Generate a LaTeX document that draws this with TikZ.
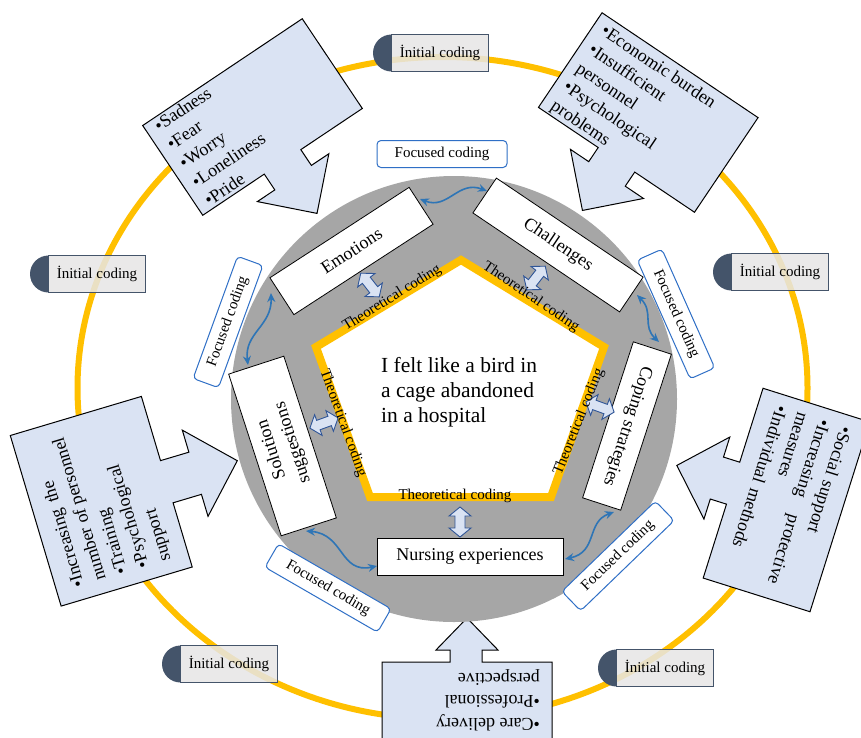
\documentclass[tikz,border=0pt]{standalone}
\usepackage{fontspec}
\setmainfont{Liberation Serif}
\usetikzlibrary{arrows.meta}

\definecolor{ringorange}{HTML}{FFC000}
\definecolor{diskgray}{HTML}{A6A6A6}
\definecolor{calloutfill}{HTML}{DAE3F3}
\definecolor{linkblue}{HTML}{2E75B6}
\definecolor{labelblue}{HTML}{2F6FC6}
\definecolor{arrowedge}{HTML}{2F5597}
\definecolor{tagfill}{HTML}{E7E6E6}
\definecolor{tagdark}{HTML}{44546A}

% "Initial coding" tag: dark half disc behind a light box
\newcommand{\codingtag}[3]{%
  \fill[tagdark] (#2-48.5,#3-18.5) arc[start angle=90,end angle=270,radius=18.5pt] -- cycle;
  \node[initialtag] (#1) at (#2,#3) {İnitial coding};}

\begin{document}
\begin{tikzpicture}[x=1pt,y=-1pt,
  catbox/.style={draw=black, fill=white, line width=0.8pt, inner sep=0pt,
    font=\fontsize{18}{22}\selectfont},
  callout/.style={draw=black, fill=calloutfill, line width=1pt, line join=miter},
  callouttext/.style={anchor=north west, inner sep=0pt, align=left, transform shape,
    font=\fontsize{18}{22.5}\selectfont},
  focuslabel/.style={draw=labelblue, fill=white, rounded corners=4pt, line width=1pt,
    minimum width=130pt, minimum height=27pt, inner sep=0pt,
    font=\fontsize{15}{18}\selectfont},
  theolabel/.style={inner sep=0pt, font=\fontsize{15}{18}\selectfont},
  initialtag/.style={draw=tagdark, fill=tagfill, fill opacity=0.85, text opacity=1,
    line width=1pt, minimum width=97pt, minimum height=37pt, inner sep=0pt,
    font=\fontsize{15}{18}\selectfont},
  link/.style={linkblue, line width=1.6pt,
    {Stealth[length=9pt,width=8pt]}-{Stealth[length=9pt,width=8pt]}},
  theoarrow/.style={draw=arrowedge, fill=calloutfill, line width=0.9pt, line join=miter},
  dblarrow/.pic={\draw[theoarrow] (-15,0) -- (-6,-11) -- (-6,-5) -- (6,-5) -- (6,-11)
    -- (15,0) -- (6,11) -- (6,5) -- (-6,5) -- (-6,11) -- cycle;}
]
\useasboundingbox (0,0) rectangle (861,737);
\clip (0,0) rectangle (861,737);
\fill[white] (0,0) rectangle (861,737);

% outer ring
\draw[ringorange, line width=6pt] (442.5,388) ellipse [x radius=365, y radius=331];

% callout: emotions
\begin{scope}[shift={(252.5,117)}, rotate=33.8]
  \draw[callout] (-96,-54) -- (96,-54) -- (96,54) -- (22,54) -- (22,73) -- (43,73)
    -- (0,116) -- (-43,73) -- (-22,73) -- (-22,54) -- (-96,54) -- cycle;
  \node[callouttext] (emoList) at (-86,-52) {•Sadness\\•Fear\\•Worry\\•Loneliness\\•Pride};
\end{scope}

% callout: challenges
\begin{scope}[shift={(648.25,112.5)}, rotate=-33.9]
  \draw[callout] (-94,-57) -- (94,-57) -- (94,57) -- (22,57) -- (22,74) -- (44,74)
    -- (0,118) -- (-44,74) -- (-22,74) -- (-22,57) -- (-94,57) -- cycle;
  \node[callouttext] (chalList) at (-84,-51) {•Economic burden\\•Insufficient\\personnel\\•Psychological\\problems};
\end{scope}

% callout: coping strategies
\begin{scope}[shift={(786.5,500)}, rotate=-107.5]
  \draw[callout] (-99.5,-56) -- (99.5,-56) -- (99.5,56) -- (22,56) -- (22,73) -- (43,73)
    -- (0,115) -- (-43,73) -- (-22,73) -- (-22,56) -- (-99.5,56) -- cycle;
  \node[callouttext, text width=172pt] (copeList) at (-88,-42)
    {•Social support\\•Increasing\hfill protective\\measures\\•Individual methods};
\end{scope}

% callout: solution suggestions
\begin{scope}[shift={(101.25,501.25)}, rotate=106.6]
  \draw[callout] (-89,-68.4) -- (89,-68.4) -- (89,68.4) -- (22,68.4) -- (22,98) -- (45,98)
    -- (0,142) -- (-45,98) -- (-22,98) -- (-22,68.4) -- (-89,68.4) -- cycle;
  \node[callouttext] (solList) at (-76,-53)
    {•Increasing\hspace{7pt}the\\number of personnel\\•Training\\•Psychological\\support};
\end{scope}

% callout: nursing experiences
\draw[callout] (382,662) -- (450,662) -- (450,650) -- (436,650) -- (467,618) -- (498,650)
  -- (482,650) -- (482,662) -- (552,662) -- (552,760) -- (382,760) -- cycle;
\node[anchor=north west, inner sep=0pt, align=left, rotate=180,
  font=\fontsize{18}{22.5}\selectfont] (careList) at (540,731)
  {•Care delivery\\•Professional\\perspective};

% grey disc and central pentagon
\fill[diskgray] (454,399) circle [radius=223];
\draw[ringorange, line width=8pt, fill=white, line join=miter]
  (461,260) -- (604,347) -- (551,497) -- (370,497) -- (316,347) -- cycle;

% category boxes
\node[catbox, minimum width=166pt, minimum height=44pt, rotate=33] (emotions) at (351.5,251) {Emotions};
\node[catbox, minimum width=177pt, minimum height=42pt, rotate=-34] (challenges) at (558,245) {Challenges};
\node[catbox, minimum width=164pt, minimum height=40pt, rotate=-108] (coping) at (627,426) {Coping strategies};
\node[catbox, minimum width=170pt, minimum height=58pt, rotate=108, align=center] (solution) at (282.5,446) {Solution\\suggestions};
\node[catbox, minimum width=186pt, minimum height=37pt] (nursing) at (470,556.5) {Nursing experiences};

% theoretical coding arrows and labels
\pic (taEmo) [rotate=-52] at (370,285) {dblarrow};
\pic (taChal) [rotate=52] at (536,278) {dblarrow};
\pic (taCope) [rotate=-20] at (600,407) {dblarrow};
\pic (taNurs) [rotate=90] at (460,522) {dblarrow};
\pic (taSol) [rotate=20] at (324,423) {dblarrow};

\node[theolabel, rotate=32] (thEmo) at (392,298) {Theoretical coding};
\node[theolabel, rotate=-34] (thChal) at (531,297) {Theoretical coding};
\node[theolabel, rotate=68] (thCope) at (579,422) {Theoretical coding};
\node[theolabel] (thNurs) at (455,496) {Theoretical coding};
\node[theolabel, rotate=-70] (thSol) at (343,423) {Theoretical coding};

% focused coding links between neighbouring categories
\coordinate (l1a) at (420,199); \coordinate (l1b) at (487,191);
\coordinate (l2a) at (637,295); \coordinate (l2b) at (659,342);
\coordinate (l3a) at (614,512); \coordinate (l3b) at (565,559);
\coordinate (l4a) at (377,566); \coordinate (l4b) at (306,531);
\coordinate (l5a) at (248,365); \coordinate (l5b) at (271,293);
\draw[link] (l1a) .. controls (448,210) and (458,180) .. (l1b);
\draw[link] (l2a) .. controls (654,312) and (642,326) .. (l2b);
\draw[link] (l3a) .. controls (586,522) and (598,552) .. (l3b);
\draw[link] (l4a) .. controls (340,574) and (344,534) .. (l4b);
\draw[link] (l5a) .. controls (244,333) and (272,326) .. (l5b);

\node[focuslabel] (fcTop) at (442,154) {Focused coding};
\node[focuslabel, rotate=-66] (fcRight) at (676,314) {Focused coding};
\node[focuslabel, rotate=44] (fcLowRight) at (618,556) {Focused coding};
\node[focuslabel, rotate=-30] (fcLowLeft) at (328,588) {Focused coding};
\node[focuslabel, rotate=70] (fcLeft) at (228,322) {Focused coding};

% initial coding tags on the ring
\codingtag{icTop}{440}{53}
\codingtag{icLeft}{97}{274}
\codingtag{icRight}{780}{272}
\codingtag{icLowLeft}{229}{664}
\codingtag{icLowRight}{665}{668}

% core category
\node[anchor=north west, inner sep=0pt, align=left, font=\fontsize{21.5}{25}\selectfont]
  (core) at (381,357) {I felt like a bird in\\a cage abandoned\\in a hospital};
\end{tikzpicture}
\end{document}
